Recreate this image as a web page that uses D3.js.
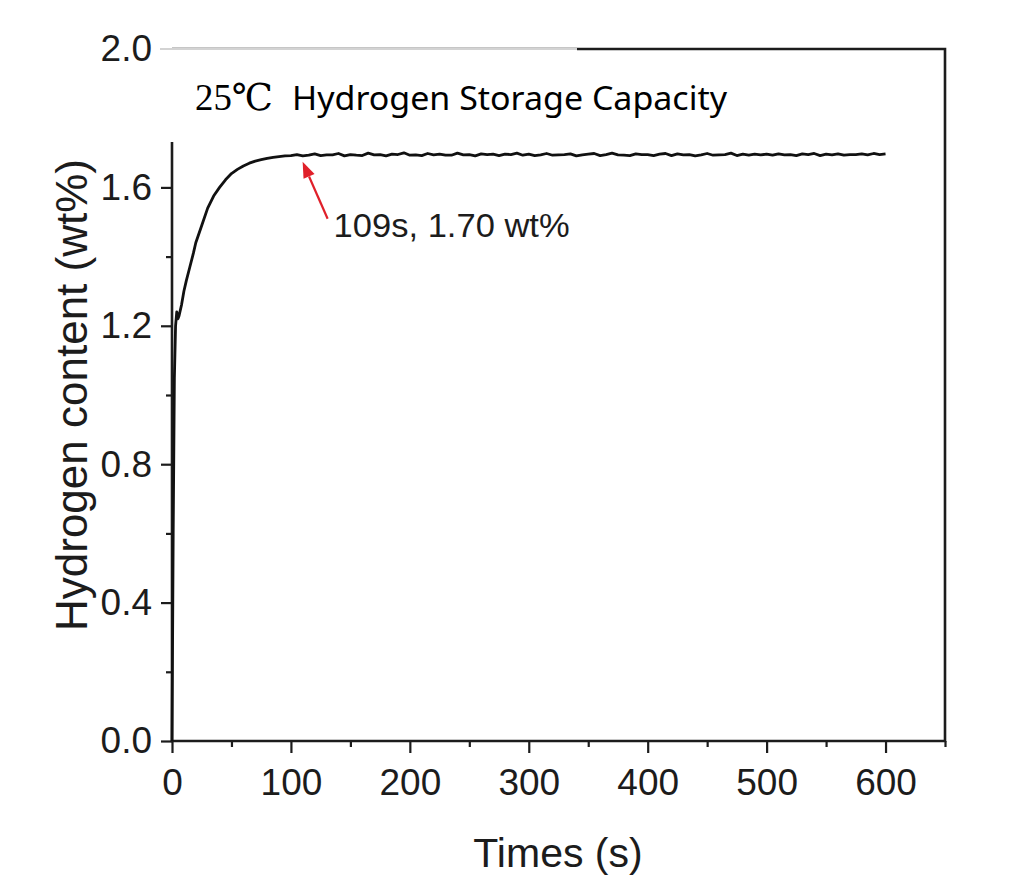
<!DOCTYPE html>
<html><head><meta charset="utf-8">
<script src="https://cdn.jsdelivr.net/npm/d3@7"></script>
<style>html,body{margin:0;padding:0;background:#fff;}svg{display:block;}</style>
</head><body>
<script>
// ---- data ----
const riseTimes  = [0, 1, 2, 3, 4, 5, 6, 8, 10, 12, 15, 18, 20, 25, 30, 35, 40, 45, 50, 55, 60, 65, 70, 75, 80, 85, 90, 95];
const riseValues = [0, 0.60, 1.05, 1.20, 1.24, 1.22, 1.23, 1.26, 1.30, 1.33, 1.37, 1.41, 1.44, 1.49, 1.54, 1.575, 1.60, 1.622, 1.640, 1.652, 1.662, 1.670, 1.676, 1.680, 1.684, 1.687, 1.689, 1.691];
const plateauTimes = [100,105,110,115,120,125,130,135,140,145,150,155,160,165,170,175,180,185,190,195,
  200,205,210,215,220,225,230,235,240,245,250,255,260,265,270,275,280,285,290,295,
  300,305,310,315,320,325,330,335,340,345,350,355,360,365,370,375,380,385,390,395,
  400,405,410,415,420,425,430,435,440,445,450,455,460,465,470,475,480,485,490,495,
  500,505,510,515,520,525,530,535,540,545,550,555,560,565,570,575,580,585,590,595,600];
const plateauValues = [1.692,1.695,1.691,1.693,1.697,1.692,1.694,1.694,1.698,1.691,1.695,1.693,1.692,1.699,1.694,1.695,1.691,1.696,1.695,1.700,
  1.693,1.694,1.692,1.698,1.694,1.696,1.693,1.693,1.699,1.694,1.695,1.691,1.697,1.695,1.696,1.692,1.696,1.695,1.699,1.693,
  1.696,1.692,1.694,1.698,1.693,1.694,1.695,1.697,1.691,1.694,1.696,1.698,1.692,1.695,1.699,1.694,1.693,1.692,1.697,1.695,
  1.695,1.692,1.696,1.698,1.692,1.697,1.694,1.695,1.691,1.694,1.698,1.693,1.694,1.695,1.699,1.692,1.696,1.693,1.696,1.694,
  1.696,1.693,1.697,1.694,1.695,1.692,1.697,1.695,1.698,1.692,1.696,1.694,1.697,1.693,1.695,1.695,1.697,1.694,1.698,1.695,1.697];
const xTicks = [0, 100, 200, 300, 400, 500, 600];
const xMinorTicks = [50, 150, 250, 350, 450, 550, 650];
const yTicks = [0.0, 0.4, 0.8, 1.2, 1.6, 2.0];
const yMinorTicks = [0.2, 0.6, 1.0, 1.4, 1.8];
const annotPoint = {t: 109, v: 1.70};
const annotText = "109s, 1.70 wt%";
const titleA = "25℃";
const titleB = "Hydrogen Storage Capacity";
const xLabel = "Times (s)";
const yLabel = "Hydrogen content (wt%)";

// ---- drawing ----
const W = 1019, H = 889;
const svg = d3.select("body").append("svg").attr("width", W).attr("height", H);
const x = d3.scaleLinear().domain([0, 650]).range([172, 945]);
const y = d3.scaleLinear().domain([0, 2.0]).range([741, 49]);
const FONT = "'Liberation Sans', Arial, sans-serif";
const ink = "#1c1c1c";

// x axis
const xAxis = svg.append("g").attr("transform", `translate(0,${y(0)})`);
xAxis.call(d3.axisBottom(x).tickValues(xTicks).tickFormat(d3.format("d")).tickSize(12).tickPadding(16));
xAxis.append("g").call(d3.axisBottom(x).tickValues(xMinorTicks).tickFormat("").tickSize(6));
xAxis.selectAll(".domain").remove();
xAxis.selectAll("line").attr("stroke", ink).attr("stroke-width", 2.2);
xAxis.selectAll("text").attr("font-family", FONT).attr("font-size", 37).attr("fill", ink);

// y axis
const yAxis = svg.append("g").attr("transform", `translate(${x(0)},0)`);
yAxis.call(d3.axisLeft(y).tickValues(yTicks).tickFormat(d3.format(".1f")).tickSize(11).tickPadding(9));
yAxis.append("g").call(d3.axisLeft(y).tickValues(yMinorTicks).tickFormat("").tickSize(6));
yAxis.selectAll(".domain").remove();
yAxis.selectAll("line").attr("stroke", ink).attr("stroke-width", 2.2);
yAxis.selectAll("text").attr("font-family", FONT).attr("font-size", 37).attr("fill", ink);

// frame
const [x0, x1] = x.range();
const yb = y(0), yt = y(2.0);
svg.append("path")
  .attr("d", `M${x0},${yt}V${yb}H${x1}V${yt}H${x0}`)
  .attr("fill", "none").attr("stroke", ink).attr("stroke-width", 2.6);

// curve
const pts = riseTimes.map((t, i) => [t, riseValues[i]])
  .concat(plateauTimes.map((t, i) => [t, plateauValues[i]]));
svg.append("path")
  .datum(pts)
  .attr("d", d3.line().x(d => x(d[0])).y(d => y(d[1])))
  .attr("fill", "none").attr("stroke", "#111").attr("stroke-width", 2.8)
  .attr("stroke-linejoin", "round");

// annotation arrow
const tipX = x(annotPoint.t) + 1, tipY = y(annotPoint.v) + 9;
const tailX = tipX + 25, tailY = tipY + 57;
const ang = Math.atan2(tipY - tailY, tipX - tailX);
const hl = 16, hw = 6;
const bx = tipX - hl * Math.cos(ang), by = tipY - hl * Math.sin(ang);
svg.append("line").attr("x1", tailX).attr("y1", tailY).attr("x2", bx).attr("y2", by)
  .attr("stroke", "#e0202a").attr("stroke-width", 2.2);
svg.append("path")
  .attr("d", `M${tipX},${tipY}L${bx + hw * Math.sin(ang)},${by - hw * Math.cos(ang)}L${bx - hw * Math.sin(ang)},${by + hw * Math.cos(ang)}Z`)
  .attr("fill", "#e0202a");
svg.append("text").attr("x", tailX + 6).attr("y", tailY + 18)
  .attr("font-family", FONT).attr("font-size", 34).attr("fill", ink)
  .attr("textLength", 236).attr("lengthAdjust", "spacingAndGlyphs")
  .text(annotText);

// title box (covers the top-left of the frame)
svg.append("rect").attr("x", 158).attr("y", y(2.0) - 1).attr("width", 419).attr("height", 94).attr("fill", "#fff");
svg.append("line").attr("x1", 160).attr("x2", 577).attr("y1", y(2.0)).attr("y2", y(2.0))
  .attr("stroke", "#a8a8a8").attr("stroke-width", 1.2);
svg.append("text").attr("x", 195).attr("y", 110).attr("fill", "#000")
  .attr("font-family", "'Liberation Serif', 'DejaVu Serif', 'Noto Sans CJK SC', serif")
  .attr("font-size", 37).attr("textLength", 78).attr("lengthAdjust", "spacingAndGlyphs")
  .text(titleA);
svg.append("text").attr("x", 292).attr("y", 110).attr("fill", "#000")
  .attr("font-family", "'Noto Sans', 'Open Sans', sans-serif")
  .attr("font-size", 33).attr("textLength", 435).attr("lengthAdjust", "spacingAndGlyphs")
  .text(titleB);

// axis labels
svg.append("text").attr("x", 558).attr("y", 867).attr("text-anchor", "middle")
  .attr("font-family", FONT).attr("font-size", 41).attr("fill", ink).text(xLabel);
svg.append("text").attr("transform", "translate(87,395) rotate(-90)").attr("text-anchor", "middle")
  .attr("font-family", FONT).attr("font-size", 44).attr("fill", ink).text(yLabel);
</script>
</body></html>
